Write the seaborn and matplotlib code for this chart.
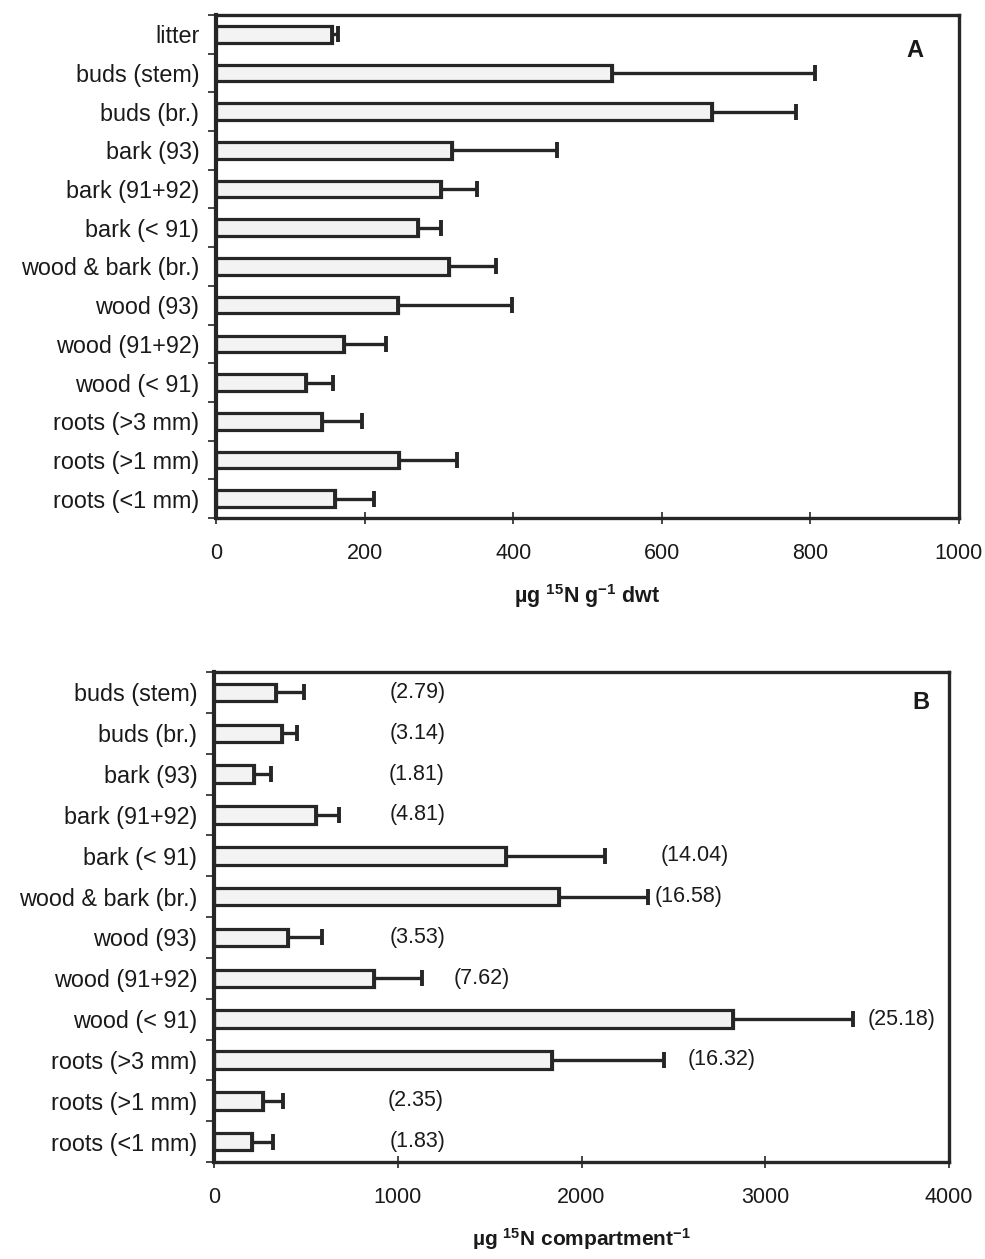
import matplotlib
matplotlib.use("Agg")
import matplotlib.pyplot as plt
import seaborn as sns
import numpy as np
import pandas as pd

# ---------------- data ----------------
cats_a = ["litter", "buds (stem)", "buds (br.)", "bark (93)", "bark (91+92)",
          "bark (< 91)", "wood & bark (br.)", "wood (93)", "wood (91+92)",
          "wood (< 91)", "roots (>3 mm)", "roots (>1 mm)", "roots (<1 mm)"]
vals_a = [156, 533, 668, 318, 303, 272, 314, 245, 172, 121, 143, 246, 160]
errs_a = [8, 273, 113, 141, 48, 31, 63, 153, 57, 36, 54, 78, 53]

cats_b = ["buds (stem)", "buds (br.)", "bark (93)", "bark (91+92)",
          "bark (< 91)", "wood & bark (br.)", "wood (93)", "wood (91+92)",
          "wood (< 91)", "roots (>3 mm)", "roots (>1 mm)", "roots (<1 mm)"]
vals_b = [338, 371, 218, 556, 1591, 1875, 405, 868, 2825, 1838, 267, 209]
errs_b = [152, 81, 92, 125, 534, 485, 185, 262, 655, 612, 111, 114]
pct_b = ["(2.79)", "(3.14)", "(1.81)", "(4.81)", "(14.04)", "(16.58)",
         "(3.53)", "(7.62)", "(25.18)", "(16.32)", "(2.35)", "(1.83)"]
pct_x_b = [958, 958, 950, 958, 2428, 2400, 958, 1306, 3555, 2575, 945, 955]

xticks_a = [0, 200, 400, 600, 800, 1000]
xticks_b = [0, 1000, 2000, 3000, 4000]

# ---------------- style ----------------
sns.set_theme(style="white")
plt.rcParams["font.family"] = ["Liberation Sans", "DejaVu Sans"]
plt.rcParams["mathtext.fontset"] = "custom"
plt.rcParams["mathtext.rm"] = "Liberation Sans"
plt.rcParams["mathtext.bf"] = "Liberation Sans:bold"
plt.rcParams["mathtext.it"] = "Liberation Sans:italic"

INK = "#262626"
FILL = "#f3f3f3"
TXT = "#1a1a1a"

fig = plt.figure(figsize=(9.85, 12.59), dpi=100)
ax_a = fig.add_axes([0.2193, 0.5886, 0.7543, 0.3995])
ax_b = fig.add_axes([0.2173, 0.0770, 0.7462, 0.3892])


def draw(ax, cats, vals, errs, xmax, xticks, xlabel, xlabsize, letter, letter_pos):
    df = pd.DataFrame({"cat": cats, "val": vals})
    sns.barplot(data=df, x="val", y="cat", ax=ax, orient="h",
                color=FILL, width=0.43, edgecolor=INK, linewidth=2.3,
                saturation=1, errorbar=None)
    pos = np.arange(len(cats))
    ax.errorbar(vals, pos, xerr=[np.zeros(len(errs)), errs], fmt="none",
                ecolor=INK, elinewidth=2.4, capsize=6, capthick=2.8, zorder=3)
    ax.set_xlim(0, xmax)
    ax.set_ylim(len(cats) - 0.5, -0.5)
    ax.set_xticks(xticks)
    ax.set_xticklabels([str(t) for t in xticks])
    ax.set_yticks(pos)
    ax.set_yticklabels(cats)
    ax.set_yticks(np.arange(len(cats) + 1) - 0.5, minor=True)
    ax.tick_params(axis="y", which="major", length=0, pad=12,
                   labelsize=16.8, labelcolor=TXT)
    ax.tick_params(axis="y", which="minor", length=6, width=1.2,
                   direction="out", color=INK, left=True)
    ax.tick_params(axis="x", which="major", length=8, width=1.2,
                   direction="inout", color=INK, pad=14,
                   labelsize=15.5, labelcolor=TXT, bottom=True)
    ax.set_ylabel("")
    ax.set_xlabel(xlabel, fontsize=xlabsize, labelpad=13, color=TXT)
    for s in ax.spines.values():
        s.set_visible(True)
        s.set_color(INK)
        s.set_linewidth(2.4)
    ax.spines["left"].set_linewidth(3.0)
    ax.text(letter_pos[0], letter_pos[1], letter, transform=ax.transAxes,
            fontsize=17, fontweight="bold", ha="center", va="center",
            color=TXT)


draw(ax_a, cats_a, vals_a, errs_a, 1000, xticks_a,
     r"$\mathbf{µg\ ^{15}N\ g^{-1}\ dwt}$", 15.5, "A", (0.94, 0.93))
draw(ax_b, cats_b, vals_b, errs_b, 4000, xticks_b,
     r"$\mathbf{µg\ ^{15}N\ compartment^{-1}}$", 15, "B", (0.962, 0.937))

for i, (lab, xp) in enumerate(zip(pct_b, pct_x_b)):
    ax_b.text(xp, i, lab, ha="left", va="center", fontsize=15.5, color=TXT)

fig.savefig("out.png", dpi=100)
